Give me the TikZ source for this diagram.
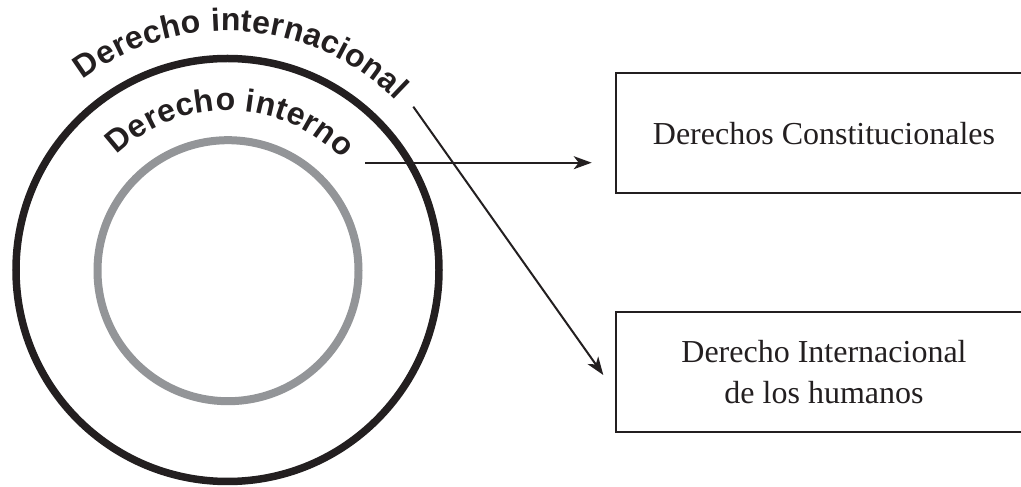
\documentclass[tikz,border=0pt]{standalone}
\usepackage{fontspec}
\setmainfont{Liberation Serif}
\newfontfamily\arcfont{Liberation Sans}
\usetikzlibrary{decorations.text,arrows.meta}
\definecolor{inkblack}{HTML}{231F20}
\definecolor{ringgray}{HTML}{939598}
\begin{document}
\begin{tikzpicture}[x=1pt,y=1pt,
  ringouter/.style={draw=inkblack,line width=7.5pt},
  ringinner/.style={draw=ringgray,line width=8pt},
  boxnode/.style={draw=inkblack,line width=2pt,minimum width=416pt,minimum height=120pt,
    inner sep=0pt,align=center,font=\fontsize{32}{41}\selectfont,text=inkblack},
  connector/.style={draw=inkblack,line width=2pt,-{Stealth[length=18pt,width=13pt,inset=5pt]}}
]
\useasboundingbox (0,0) rectangle (1021,487);
\clip (0,0) rectangle (1021,487);
\fill[white] (0,0) rectangle (1021,487);
\coordinate (c) at (227.5,217);
\coordinate (ci) at (228,216.3);
\draw[ringouter] (c) circle[radius=211.5];
\draw[ringinner] (ci) circle[radius=130.5];
% curved labels
\path[decorate,decoration={text along path,text align=fit to path,
  text={|\arcfont\bfseries\fontsize{32}{34}\selectfont\color{inkblack}|Derecho internacional}}]
  (c) ++(127.2:239) arc[start angle=127.2,end angle=45.2,radius=239];
\path[decorate,decoration={text along path,text align=fit to path,
  text={|\arcfont\bfseries\fontsize{32}{34}\selectfont\color{inkblack}|Derecho interno}}]
  (c) ++(134:159.5) arc[start angle=134,end angle=44,radius=159.5];
% boxes
\node[boxnode] (b1) at (824,353.7) {Derechos Constitucionales};
\node[boxnode] (b2) at (824,114.7) {Derecho Internacional\\de los humanos};
% connectors
\coordinate (s1) at (365,324.3);
\coordinate (e1) at (591.7,324.3);
\coordinate (s2) at (413.3,380.3);
\coordinate (e2) at (603.3,112);
\draw[connector] (s1) -- (e1);
\draw[connector] (s2) -- (e2);
\end{tikzpicture}
\end{document}
